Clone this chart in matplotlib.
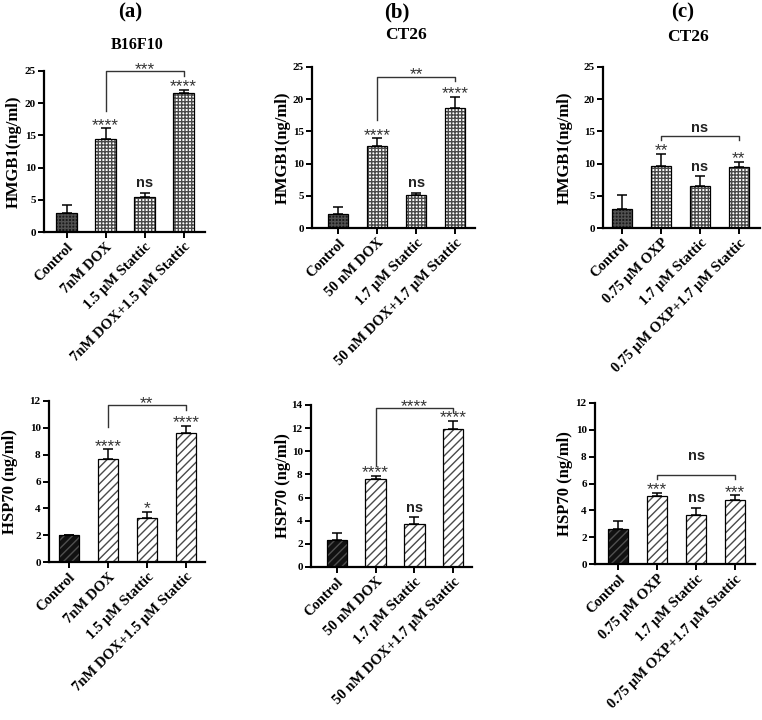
import matplotlib
matplotlib.use('Agg')
import matplotlib.pyplot as plt
import numpy as np

plt.rcParams['hatch.linewidth'] = 1.0

W, H = 762, 720
fig = plt.figure(figsize=(W / 100, H / 100), dpi=100)

SERIF = 'Liberation Serif'
SANS = 'Liberation Sans'

# ---------------- data ----------------
labels_a = ['Control', '7nM DOX', '1.5 μM Stattic', '7nM DOX+1.5 μM Stattic']
labels_b = ['Control', '50 nM DOX', '1.7 μM Stattic', '50 nM DOX+1.7 μM Stattic']
labels_c = ['Control', '0.75 μM OXP', '1.7 μM Stattic', '0.75 μM OXP+1.7 μM Stattic']

hmgb1_a = [2.9, 14.5, 5.5, 21.6]
hmgb1_a_err = [1.3, 1.6, 0.5, 0.5]
hmgb1_b = [2.2, 12.7, 5.1, 18.7]
hmgb1_b_err = [1.1, 1.2, 0.4, 1.7]
hmgb1_c = [2.9, 9.7, 6.5, 9.5]
hmgb1_c_err = [2.2, 1.8, 1.5, 0.8]

hsp70_a = [2.0, 7.7, 3.25, 9.6]
hsp70_a_err = [0.0, 0.7, 0.5, 0.55]
hsp70_b = [2.33, 7.6, 3.68, 11.9]
hsp70_b_err = [0.57, 0.3, 0.6, 0.73]
hsp70_c = [2.6, 5.1, 3.63, 4.75]
hsp70_c_err = [0.6, 0.2, 0.57, 0.37]

sig_hmgb1_a = ['', '****', 'ns', '****']
sig_hmgb1_b = ['', '****', 'ns', '****']
sig_hmgb1_c = ['', '**', 'ns', '**']
sig_hsp70_a = ['', '****', '*', '****']
sig_hsp70_b = ['', '****', 'ns', '****']
sig_hsp70_c = ['', '***', 'ns', '***']

bracket_hmgb1 = ['***', '**', 'ns']
bracket_hsp70 = ['**', '****', 'ns']

yticks_hmgb1 = [0, 5, 10, 15, 20, 25]
yticks_hsp70_a = [0, 2, 4, 6, 8, 10, 12]
yticks_hsp70_b = [0, 2, 4, 6, 8, 10, 12, 14]
yticks_hsp70_c = [0, 2, 4, 6, 8, 10, 12]

panel_letters = ['(a)', '(b)', '(c)']
cell_lines = ['B16F10', 'CT26', 'CT26']


def add_ax(x0, x1, yt, yb):
    return fig.add_axes([x0 / W, 1 - yb / H, (x1 - x0) / W, (yb - yt) / H])


def draw(ax, labels, means, errs, sig, brk_txt, brk, xlim, yticks, hatch,
         ylabel, ylab_x, ctrl_face):
    n = len(means)
    x = np.arange(n)
    faces = [ctrl_face] + ['white'] * (n - 1)
    hcols = ['#505050'] + ['#4a4a4a'] * (n - 1)
    ax.bar(x, means, width=0.53, color=faces, edgecolor=hcols, hatch=hatch,
           linewidth=0, zorder=2)
    ax.bar(x, means, width=0.53, fill=False, edgecolor='black', linewidth=0.9,
           zorder=3)
    ax.errorbar(x, means, yerr=[np.zeros(n), errs], fmt='none', ecolor='black',
                elinewidth=1.1, capsize=3.6, capthick=1.1, zorder=1)
    for i, s in enumerate(sig):
        if not s:
            continue
        top = means[i] + errs[i]
        if s == 'ns':
            ax.annotate(s, (i, top), xytext=(0, 4.3), textcoords='offset points',
                        ha='center', va='baseline', fontsize=10.5, weight='bold',
                        family=SANS, color='#222222', zorder=5)
        else:
            ax.annotate(s, (i, top), xytext=(0, -1.2), textcoords='offset points',
                        ha='center', va='baseline', fontsize=12.5, family=SANS,
                        color='#333333', zorder=5)
    by, ly, ry, toff = brk
    ax.plot([1, 1, 3, 3], [ly, by, by, ry], color='#333333', lw=1.0,
            clip_on=False, zorder=5)
    if brk_txt == 'ns':
        ax.annotate(brk_txt, (2, by), xytext=(0, toff), textcoords='offset points',
                    ha='center', va='baseline', fontsize=10.5, weight='bold',
                    family=SANS, color='#222222', annotation_clip=False)
    else:
        ax.annotate(brk_txt, (2, by), xytext=(0, toff), textcoords='offset points',
                    ha='center', va='baseline', fontsize=12.5, family=SANS,
                    color='#333333', annotation_clip=False)

    ax.set_xlim(*xlim)
    ax.set_ylim(yticks[0], yticks[-1])
    ax.set_yticks(yticks)
    ax.set_yticklabels([str(t) for t in yticks], fontsize=8, weight='bold',
                       family=SERIF)
    ax.set_xticks(x)
    ax.set_xticklabels(labels, rotation=45, ha='right', rotation_mode='anchor',
                       fontsize=10.5, weight='bold', family=SERIF)
    ax.tick_params(axis='both', direction='out', length=4, width=1.4, pad=2)
    ax.tick_params(axis='x', pad=2)
    for sp in ['top', 'right']:
        ax.spines[sp].set_visible(False)
    for sp in ['left', 'bottom']:
        ax.spines[sp].set_linewidth(1.6)
    pos = ax.get_position()
    fig.text(ylab_x / W, pos.y0 + pos.height / 2, ylabel, rotation=90,
             ha='center', va='center', fontsize=12, weight='bold', family=SERIF)


# ---------------- top row (HMGB1) ----------------
ax1 = add_ax(44, 205, 71, 232)
draw(ax1, labels_a, hmgb1_a, hmgb1_a_err, sig_hmgb1_a, bracket_hmgb1[0],
     (25.0, 18.8, 24.2, -2), (-0.58, 3.55), yticks_hmgb1, '+++++',
     'HMGB1(ng/ml)', 14, '#1a1a1a')

ax2 = add_ax(312, 475, 67, 228)
draw(ax2, labels_b, hmgb1_b, hmgb1_b_err, sig_hmgb1_b, bracket_hmgb1[1],
     (23.5, 16.8, 22.8, -2), (-0.67, 3.51), yticks_hmgb1, '+++++',
     'HMGB1(ng/ml)', 283, '#1a1a1a')

ax3 = add_ax(603, 760, 67, 228)
draw(ax3, labels_c, hmgb1_c, hmgb1_c_err, sig_hmgb1_c, bracket_hmgb1[2],
     (14.3, 13.7, 13.7, 3), (-0.49, 3.54), yticks_hmgb1, '+++++',
     'HMGB1(ng/ml)', 565, '#1a1a1a')

# ---------------- bottom row (HSP70) ----------------
ax4 = add_ax(49, 205, 401, 562)
draw(ax4, labels_a, hsp70_a, hsp70_a_err, sig_hsp70_a, bracket_hsp70[0],
     (11.7, 10.05, 11.35, -2), (-0.51, 3.49), yticks_hsp70_a, '////',
     'HSP70 (ng/ml)', 10, '#111111')

ax5 = add_ax(311, 472, 405, 567)
draw(ax5, labels_b, hsp70_b, hsp70_b_err, sig_hsp70_b, bracket_hsp70[1],
     (13.7, 8.7, 13.36, -2), (-0.67, 3.49), yticks_hsp70_b, '////',
     'HSP70 (ng/ml)', 283, '#111111')

ax6 = add_ax(595, 755, 403, 564)
draw(ax6, labels_c, hsp70_c, hsp70_c_err, sig_hsp70_c, bracket_hsp70[2],
     (6.6, 6.3, 6.3, 11), (-0.59, 3.51), yticks_hsp70_c, '////',
     'HSP70 (ng/ml)', 565, '#111111')

# ---------------- titles ----------------
for letter, cell, csize, (lx, ly), (cx, cy) in zip(
        panel_letters, cell_lines, [11.5, 12.5, 12.5],
        [(130, 12), (397, 12), (683, 12)],
        [(137, 45), (406, 35), (688, 37)]):
    fig.text(lx / W, 1 - ly / H, letter, ha='center', va='center', fontsize=15,
             weight='bold', family=SERIF)
    fig.text(cx / W, 1 - cy / H, cell, ha='center', va='center', fontsize=csize,
             weight='bold', family=SERIF)

fig.savefig('out.png', dpi=100)
